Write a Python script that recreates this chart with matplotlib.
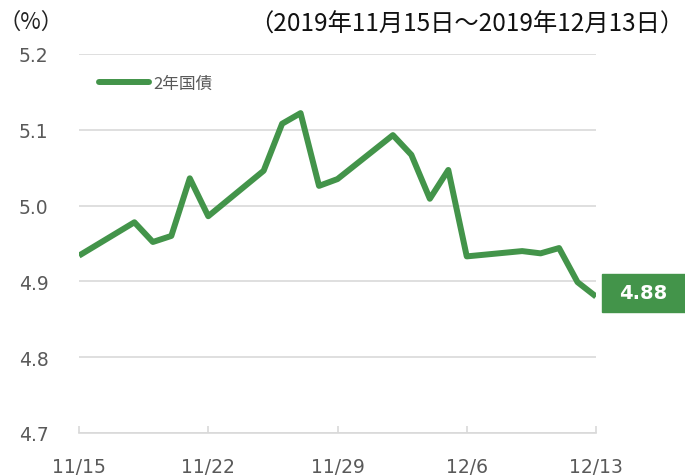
import pandas as pd
import matplotlib
matplotlib.use('Agg')
import matplotlib.pyplot as plt
from matplotlib.patches import Rectangle
from matplotlib.lines import Line2D

plt.rcParams['font.family'] = ['DejaVu Sans', 'Noto Sans CJK JP']

# data
dates = ['2019-11-15', '2019-11-18', '2019-11-19', '2019-11-20', '2019-11-21',
         '2019-11-22', '2019-11-25', '2019-11-26', '2019-11-27', '2019-11-28',
         '2019-11-29', '2019-12-02', '2019-12-03', '2019-12-04', '2019-12-05',
         '2019-12-06', '2019-12-09', '2019-12-10', '2019-12-11', '2019-12-12',
         '2019-12-13']
yields = [4.934, 4.978, 4.952, 4.960, 5.036,
          4.986, 5.046, 5.108, 5.122, 5.026,
          5.035, 5.093, 5.067, 5.009, 5.047,
          4.933, 4.940, 4.937, 4.944, 4.899,
          4.880]
tick_dates = ['2019-11-15', '2019-11-22', '2019-11-29', '2019-12-06', '2019-12-13']
tick_labels = ['11/15', '11/22', '11/29', '12/6', '12/13']
y_ticks = [4.7, 4.8, 4.9, 5.0, 5.1, 5.2]
series_name = '2年国債'
title = '（2019年11月15日～2019年12月13日）'

green = '#43944a'
grid_c = '#d9d9d9'
text_c = '#595959'
cjk = ['Noto Sans CJK JP', 'DejaVu Sans']

x = pd.to_datetime(dates)
xt = pd.to_datetime(tick_dates)

W, H = 685, 477
fig = plt.figure(figsize=(W / 100, H / 100), dpi=100)
ax = fig.add_axes([79 / W, 1 - 434 / H, (596 - 79) / W, (434 - 55) / H])

ax.plot(x, yields, color=green, lw=4.3, solid_joinstyle='round',
        solid_capstyle='butt', zorder=3)

ax.set_xlim(xt[0], xt[-1])
ax.set_ylim(4.7, 5.2)
ax.set_yticks(y_ticks)
ax.set_yticklabels([f'{v:.1f}' for v in y_ticks])
ax.set_xticks(xt)
ax.set_xticklabels(tick_labels)

for s in ['top', 'right', 'left']:
    ax.spines[s].set_visible(False)
ax.spines['bottom'].set_color(grid_c)
ax.spines['bottom'].set_linewidth(1.2)
ax.grid(axis='y', color=grid_c, lw=1.2)
ax.set_axisbelow(True)
ax.tick_params(axis='y', length=0, pad=22, labelsize=13.5, labelcolor=text_c)
ax.tick_params(axis='x', direction='in', length=5, width=1.2, color=grid_c,
               pad=17, labelsize=13.5, labelcolor=text_c)

# legend
h = Line2D([], [], color=green, lw=4.3, solid_capstyle='round')
ax.legend([h], [series_name], loc='center left', frameon=False,
          bbox_to_anchor=(99 / W, 1 - 84 / H), bbox_transform=fig.transFigure,
          borderpad=0, borderaxespad=0, handlelength=3.0, handletextpad=0.25,
          prop={'size': 12, 'family': cjk}, labelcolor=text_c)

# texts
fig.text(31 / W, 1 - 22 / H, '（%）', ha='center', va='center', fontsize=16,
         family=cjk, color='#222222')
fig.text(684 / W, 1 - 25 / H, title, ha='right', va='center', fontsize=17.5,
         family=cjk, color='#111111')

# last value box
fig.patches.append(Rectangle((602 / W, 1 - 313 / H), 83 / W, 38 / H,
                             transform=fig.transFigure, color=green, zorder=5))
fig.text(643 / W, 1 - 294 / H, f'{yields[-1]:.2f}', ha='center', va='center',
         fontsize=14, fontweight='bold', color='white', zorder=6)

fig.savefig('out.png', dpi=100)
